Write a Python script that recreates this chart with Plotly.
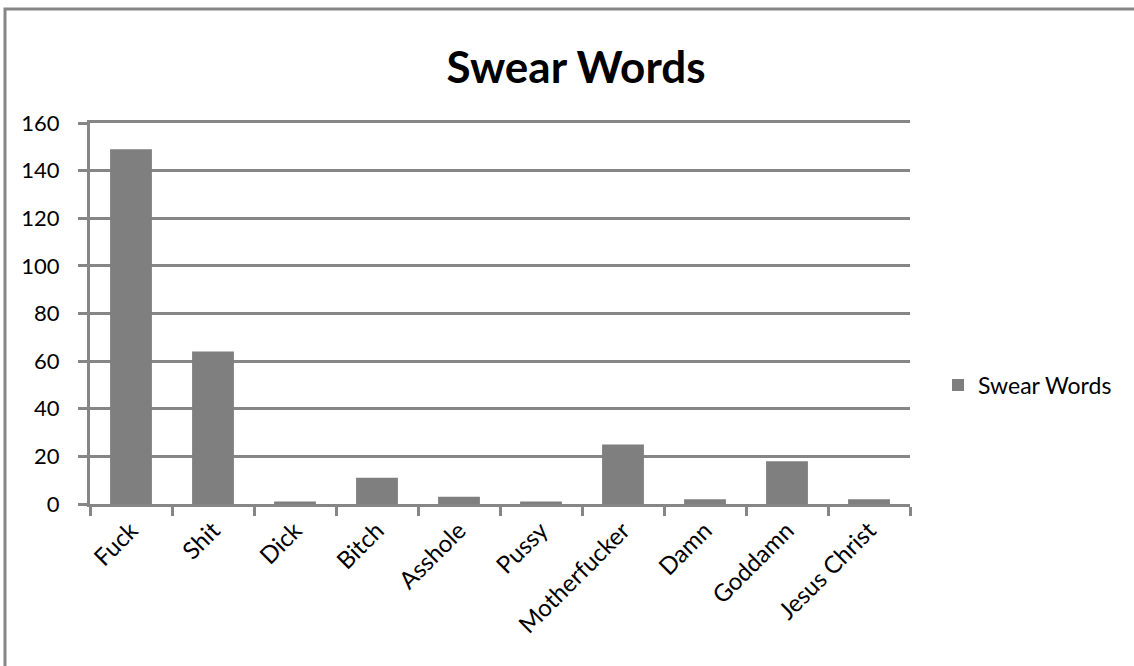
import plotly.graph_objects as go

categories = ["Fuck", "Shit", "Dick", "Bitch", "Asshole", "Pussy",
              "Motherfucker", "Damn", "Goddamn", "Jesus Christ"]
counts = [149, 64, 1, 11, 3, 1, 25, 2, 18, 2]
series_name = "Swear Words"
y_ticks = [0, 20, 40, 60, 80, 100, 120, 140, 160]

FONT = "Lato, 'Open Sans', sans-serif"
GRAY = "#868686"

fig = go.Figure()
fig.add_trace(go.Bar(x=categories, y=counts, name=series_name,
                     marker=dict(color="#7f7f7f", line=dict(width=0))))

W, H = 1134, 666
L, R, T, B = 90, 224, 123, 162
pw, ph = W - L - R, H - T - B

fig.update_layout(
    width=W, height=H,
    margin=dict(l=L, r=R, t=T, b=B, pad=0),
    paper_bgcolor="white", plot_bgcolor="white",
    font=dict(family=FONT, size=22, color="black"),
    title=dict(text="<b>Swear Words</b>", x=576 / W, xref="container", xanchor="center",
               y=1 - 68 / H, yref="container", yanchor="middle",
               font=dict(family=FONT, size=44, color="black")),
    bargap=0.49,
    showlegend=True,
    legend=dict(x=(938 - L) / pw, xanchor="left", y=(H - B - 385) / ph, yanchor="middle",
                font=dict(family=FONT, size=23, color="black"),
                bgcolor="rgba(0,0,0,0)", itemwidth=30),
    xaxis=dict(tickangle=-45, showline=True, mirror=True, linecolor=GRAY, linewidth=3,
               ticks="outside", tickson="boundaries", ticklen=9, tickwidth=3, tickcolor=GRAY,
               showgrid=False, tickfont=dict(family=FONT, size=24, color="black")),
    yaxis=dict(range=[0, 160], tickvals=y_ticks, showline=True, linecolor=GRAY, linewidth=3,
               ticks="outside", ticklen=9, tickwidth=3, tickcolor=GRAY,
               showgrid=True, gridcolor=GRAY, gridwidth=3, zeroline=False,
               tickfont=dict(family=FONT, size=22, color="black"), ticklabelstandoff=14),
    shapes=[dict(type="rect", xref="paper", yref="paper",
                 x0=(5 - L) / pw, x1=(1145 - L) / pw,
                 y0=(H - B - 680) / ph, y1=(H - B - 9) / ph,
                 line=dict(color=GRAY, width=3), fillcolor="rgba(0,0,0,0)", layer="below")],
)

fig.write_html("out.html")
